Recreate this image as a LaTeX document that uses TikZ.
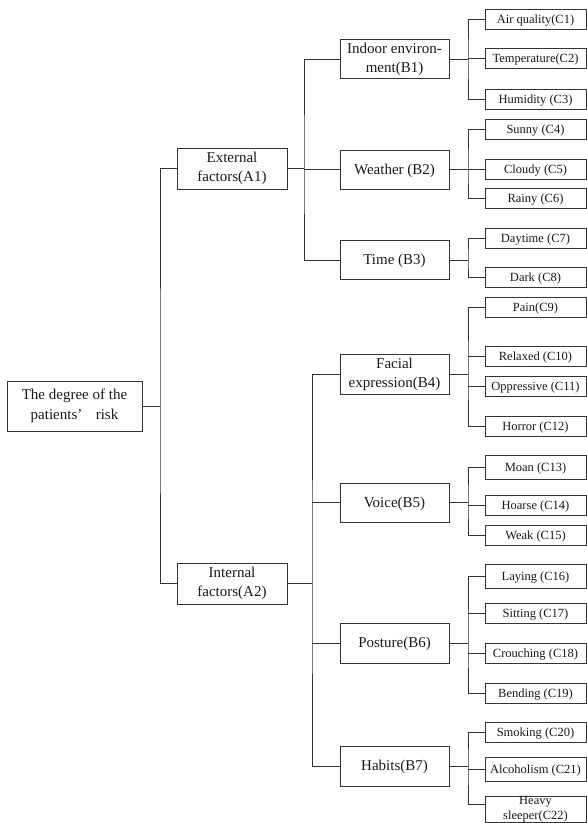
\documentclass[tikz,border=0pt]{standalone}
\usepackage{fontspec}
\setmainfont{Liberation Serif}
\begin{document}
\begin{tikzpicture}[x=1pt,y=-1pt,
  box/.style={draw=black!80, line width=1pt, align=center, inner sep=1pt, text=black!90},
  rootbox/.style={box, minimum width=135pt, minimum height=50pt, font=\fontsize{15}{20}\selectfont},
  abox/.style={box, minimum width=110pt, minimum height=41pt, font=\fontsize{15}{19}\selectfont},
  bbox/.style={box, minimum width=109pt, minimum height=39pt, font=\fontsize{15}{19}\selectfont},
  bline/.style={bbox, text height=10.5pt, text depth=1.5pt},
  cbox/.style={box, minimum width=101pt, minimum height=20pt, font=\fontsize{12.5}{14}\selectfont,
    text height=9pt, text depth=1pt},
  link/.style={draw=black!80, line width=1pt}]
\useasboundingbox (0,0) rectangle (587,823);

% bus columns
\coordinate (rx) at (160,0);
\coordinate (ax1) at (304,0);
\coordinate (ax2) at (312,0);
\coordinate (cx) at (468,0);

% goal
\node[rootbox] (root) at (74.5,406) {The degree of the\\patients’\hspace{0.9em}risk};

% criteria
\node[abox] (A1) at (232,168.5) {External\\factors(A1)};
\node[abox] (A2) at (232,583.5) {Internal\\factors(A2)};

% sub-criteria
\node[bbox] (B1) at (394.5,59) {Indoor environ-\\ment(B1)};
\node[bline] (B2) at (394.5,169.5) {Weather (B2)};
\node[bline] (B3) at (394.5,260) {Time (B3)};
\node[bbox, minimum height=40pt] (B4) at (394.5,374) {Facial\\expression(B4)};
\node[bline] (B5) at (394.5,502.5) {Voice(B5)};
\node[bline, minimum height=40pt] (B6) at (394.5,643) {Posture(B6)};
\node[bline, minimum height=40pt] (B7) at (394.5,766) {Habits(B7)};

% indicators
\node[cbox] (C1) at (535.5,19) {Air quality(C1)};
\node[cbox] (C2) at (535.5,58.5) {Temperature(C2)};
\node[cbox] (C3) at (535.5,99) {Humidity (C3)};
\node[cbox] (C4) at (535.5,129.5) {Sunny (C4)};
\node[cbox] (C5) at (535.5,169) {Cloudy (C5)};
\node[cbox] (C6) at (535.5,198.5) {Rainy (C6)};
\node[cbox] (C7) at (535.5,238) {Daytime (C7)};
\node[cbox] (C8) at (535.5,277.5) {Dark (C8)};
\node[cbox] (C9) at (535.5,307.5) {Pain(C9)};
\node[cbox] (C10) at (535.5,356.5) {Relaxed (C10)};
\node[cbox] (C11) at (535.5,386.5) {Oppressive (C11)};
\node[cbox] (C12) at (535.5,426) {Horror (C12)};
\node[cbox, minimum height=24pt] (C13) at (535.5,467) {Moan (C13)};
\node[cbox] (C14) at (535.5,505) {Hoarse (C14)};
\node[cbox] (C15) at (535.5,535.5) {Weak (C15)};
\node[cbox, minimum height=24pt] (C16) at (535.5,576) {Laying (C16)};
\node[cbox] (C17) at (535.5,613.5) {Sitting (C17)};
\node[cbox] (C18) at (535.5,653) {Crouching (C18)};
\node[cbox] (C19) at (535.5,693) {Bending (C19)};
\node[cbox] (C20) at (535.5,732) {Smoking (C20)};
\node[cbox, minimum height=24pt] (C21) at (535.5,769) {Alcoholism (C21)};
\node[box, minimum width=101pt, minimum height=26pt] (C22) at (535.5,809) {};
\node[font=\fontsize{12.5}{15}\selectfont, align=center, inner sep=0pt, text=black!90] (C22t) at (535.5,809) {Heavy\\sleeper(C22)};

% goal to criteria
\draw[link] (root.east) -- (root.east -| rx) coordinate (r);
\draw[link] (A1.west) -| (r) |- (A2.west);

% criteria to sub-criteria
\draw[link] (A1.east) -- (A1.east -| ax1) coordinate (a1);
\draw[link] (B1.west) -| (a1) |- (B3.west);
\draw[link] (B2.west) -- (B2.west -| ax1);

\draw[link] (A2.east) -- (A2.east -| ax2) coordinate (a2);
\draw[link] (B4.west) -| (a2) |- (B7.west);
\draw[link] (B5.west) -- (B5.west -| ax2);
\draw[link] (B6.west) -- (B6.west -| ax2);

% sub-criteria to indicators
\draw[link] (B1.east) -- (B1.east -| cx) coordinate (b1);
\draw[link] (C1.west) -| (b1) |- (C3.west);
\draw[link] (C2.west) -- (C2.west -| cx);

\draw[link] (B2.east) -- (B2.east -| cx) coordinate (b2);
\draw[link] (C4.west) -| (b2) |- (C6.west);
\draw[link] (C5.west) -- (C5.west -| cx);

\draw[link] (B3.east) -- (B3.east -| cx) coordinate (b3);
\draw[link] (C7.west) -| (b3) |- (C8.west);

\draw[link] (B4.east) -- (B4.east -| cx) coordinate (b4);
\draw[link] (C9.west) -| (b4) |- (C12.west);
\draw[link] (C10.west) -- (C10.west -| cx);
\draw[link] (C11.west) -- (C11.west -| cx);

\draw[link] (B5.east) -- (B5.east -| cx) coordinate (b5);
\draw[link] (C13.west) -| (b5) |- (C15.west);
\draw[link] (C14.west) -- (C14.west -| cx);

\draw[link] (B6.east) -- (B6.east -| cx) coordinate (b6);
\draw[link] (C16.west) -| (b6) |- (C19.west);
\draw[link] (C17.west) -- (C17.west -| cx);
\draw[link] (C18.west) -- (C18.west -| cx);

\draw[link] (B7.east) -- (B7.east -| cx) coordinate (b7);
\draw[link] (C20.west) -| (b7) |- ([yshift=5pt]C22.west);
\draw[link] (C21.west) -- (C21.west -| cx);
\end{tikzpicture}
\end{document}
